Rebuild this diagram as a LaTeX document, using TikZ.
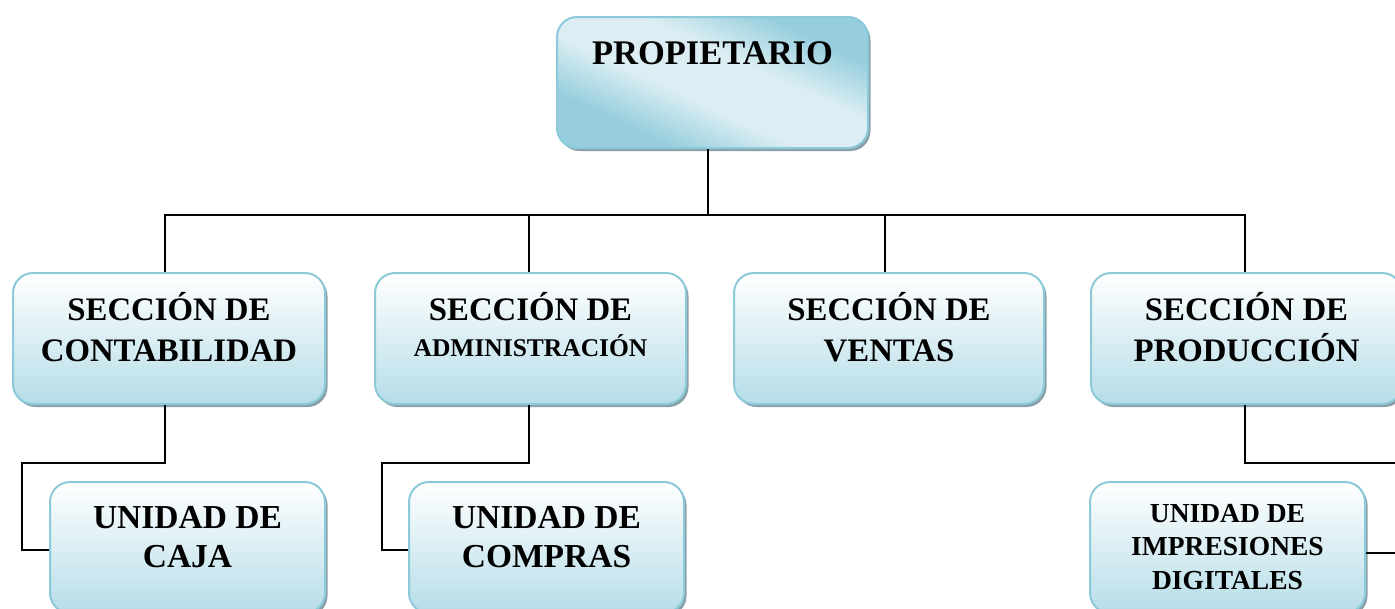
\documentclass[tikz,border=0pt]{standalone}
\usepackage{fontspec}
\setmainfont{Liberation Serif}
\usetikzlibrary{shadows}
\definecolor{bordc}{RGB}{140,202,218}
\definecolor{fillc}{RGB}{182,221,232}
\definecolor{darkc}{RGB}{150,206,221}
\definecolor{lightc}{RGB}{220,238,243}
\definecolor{shadc}{RGB}{125,150,160}
\pgfdeclarehorizontalshading{diagsh}{100bp}{color(0bp)=(darkc); color(30bp)=(darkc); color(44bp)=(lightc); color(58bp)=(lightc); color(72bp)=(darkc); color(100bp)=(darkc)}
\tikzset{
  box/.style={draw=bordc, line width=2pt, rounded corners=20pt,
    top color=white, bottom color=fillc,
    minimum width=#1, minimum height=131pt, inner sep=0pt,
    drop shadow={shadow xshift=2.5pt, shadow yshift=-3pt, fill=shadc, opacity=0.9}},
  topbox/.style={box=#1, shading=diagsh, shading angle=65},
  txt/.style={font=\bfseries, align=center, inner sep=0pt, text=black},
  conn/.style={draw=black, line width=1.7pt}
}
\begin{document}
\begin{tikzpicture}[x=1pt,y=-1pt]
\useasboundingbox (0,0) rectangle (1395,608);
\clip (0,0) rectangle (1395,608);
% boxes
\node[topbox=311pt] (P) at (712.5,82.5) {};
\node[box=312pt] (b1) at (169,338.5) {};
\node[box=311pt] (b2) at (530.5,338.5) {};
\node[box=310pt] (b3) at (889,338.5) {};
\node[box=311pt] (b4) at (1246.5,338.5) {};
\node[box=275pt] (c1) at (187.5,547.5) {};
\node[box=275pt] (c2) at (546.5,547.5) {};
\node[box=275pt] (c3) at (1227.5,547.5) {};
% texts
\node[txt, font=\fontsize{34.5}{36}\selectfont\bfseries] (tP) at (712.5,53) {PROPIETARIO};
\node[txt, font=\fontsize{32.8}{41}\selectfont\bfseries] (t1) at (169,327) {SECCIÓN DE\\CONTABILIDAD};
\node[txt, font=\fontsize{32.8}{41}\selectfont\bfseries] (t2a) at (530.5,307) {SECCIÓN DE};
\node[txt, font=\fontsize{25.5}{30}\selectfont\bfseries] (t2b) at (530.5,346) {ADMINISTRACIÓN};
\node[txt, font=\fontsize{32.8}{41}\selectfont\bfseries] (t3) at (889,327) {SECCIÓN DE\\VENTAS};
\node[txt, font=\fontsize{32.8}{41}\selectfont\bfseries] (t4) at (1246.5,327) {SECCIÓN DE\\PRODUCCIÓN};
\node[txt, font=\fontsize{33.5}{39}\selectfont\bfseries] (u1) at (187.5,537) {UNIDAD DE\\CAJA};
\node[txt, font=\fontsize{33.5}{39}\selectfont\bfseries] (u2) at (546.5,537) {UNIDAD DE\\COMPRAS};
\node[txt, font=\fontsize{27.5}{33.5}\selectfont\bfseries] (u3) at (1227.5,547) {UNIDAD DE\\IMPRESIONES\\DIGITALES};
% connectors
\coordinate (bus) at (708,215);
\coordinate (j1) at (165,215);
\coordinate (j2) at (529,215);
\coordinate (j3) at (885,215);
\coordinate (j4) at (1245,215);
\draw[conn] (P.south -| bus) -- (bus);
\draw[conn, line cap=rect] (j1) -- (j4);
\draw[conn] (j1) -- (j1 |- b1.north);
\draw[conn] (j2) -- (j2 |- b2.north);
\draw[conn] (j3) -- (j3 |- b3.north);
\draw[conn] (j4) -- (j4 |- b4.north);
\coordinate (k1) at (165,463);
\coordinate (k1b) at (22,463);
\coordinate (k1c) at (22,550);
\draw[conn] (k1 |- b1.south) -- (k1) -- (k1b) -- (k1c) -- (k1c -| c1.west);
\coordinate (k2) at (529,463);
\coordinate (k2b) at (382,463);
\coordinate (k2c) at (382,550);
\draw[conn] (k2 |- b2.south) -- (k2) -- (k2b) -- (k2c) -- (k2c -| c2.west);
\coordinate (k3) at (1245,463);
\coordinate (k3b) at (1400,463);
\coordinate (k3c) at (1400,553);
\draw[conn] (k3 |- b4.south) -- (k3) -- (k3b);
\draw[conn] (k3c -| c3.east) -- (k3c);
\end{tikzpicture}
\end{document}
